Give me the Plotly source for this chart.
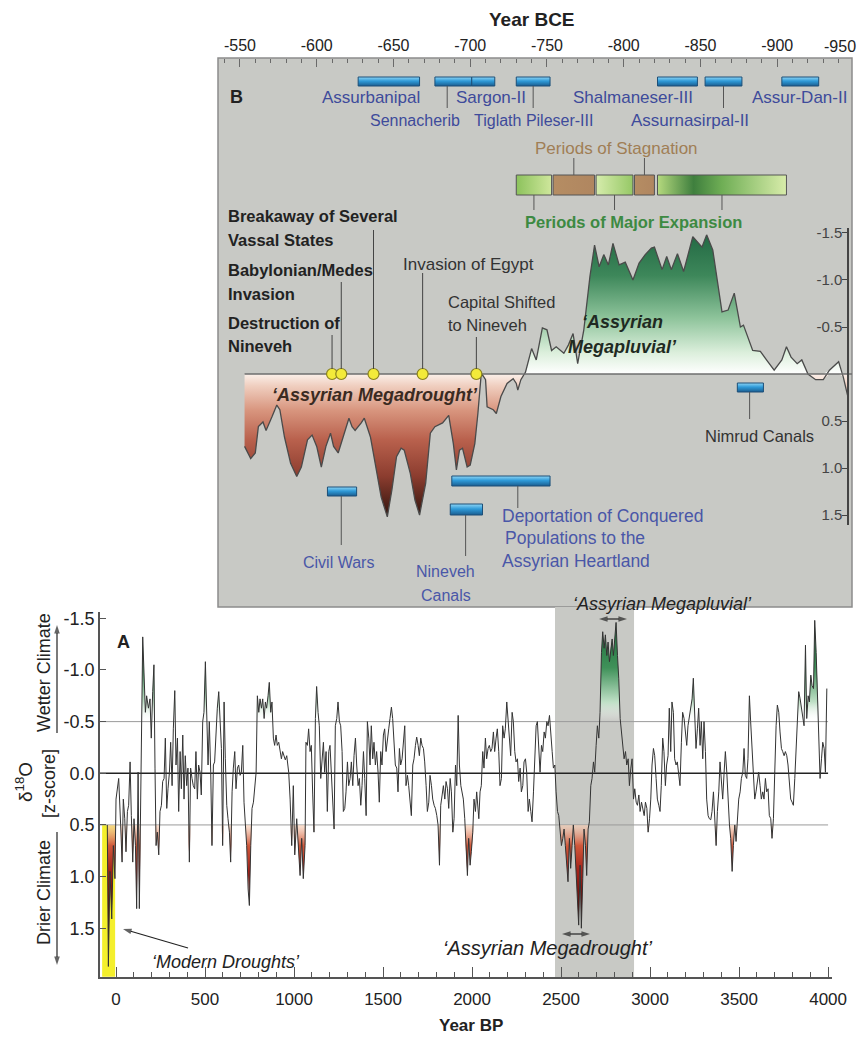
import plotly.graph_objects as go

W, H = 859, 1045
FONT = "Liberation Sans, Arial, sans-serif"


def px(x):
    return x / W


def py(y):
    return 1 - y / H


# ---------------- Panel A: d18O z-score record (Year BP) ----------------
yr_a1 = [-49, -43, -34, -24, -15, -6, 0, 7, 15, 26,
         34, 41, 49, 56, 64, 71, 79, 86, 94, 101,
         109, 116, 124, 131, 139, 146, 150, 157, 165, 172,
         182, 191, 198, 206, 213, 219, 225, 232, 240, 247,
         255, 262, 270, 277, 285, 292, 300, 307, 315, 322,
         330, 337, 345, 352, 360, 367, 375, 382, 389, 397,
         404, 412, 419, 427, 434, 442, 449, 457, 464, 472,
         479, 487, 494, 502, 509, 517, 524, 532, 539, 547,
         554, 562, 569, 577, 584, 592, 599, 607, 614, 622,
         629, 637, 644, 652, 659, 667, 674, 682, 689, 697,
         704, 712, 719, 727, 734, 742, 749, 757, 764, 772,
         779, 787, 794, 802, 809, 817, 824, 832, 839, 846,
         854, 861, 869, 876, 884, 891, 899, 906, 914, 921,
         929, 936, 944, 951, 959, 970]
z_a1 = [0.50, 1.87, 0.95, 1.41, 0.70, 1.02, 0.25, 0.12, 0.05, 0.50,
        0.86, 0.25, 0.44, 0.76, 0.37, 0.31, -0.11, 0.41, 0.86, 0.44,
        0.70, 1.31, -0.01, 1.31, -0.01, -0.59, -1.32, -0.98, -0.59, -0.75,
        -0.63, -0.72, -0.34, -0.79, -1.05, -0.05, 0.70, 0.57, 0.79, 0.37,
        0.31, 0.08, 0.05, -0.34, 0.34, 0.15, -0.01, -0.30, 0.12, -0.43,
        -0.80, -0.08, -0.34, 0.37, -0.21, 0.15, -0.37, 0.25, -0.17, 0.12,
        -0.05, 0.86, -0.05, 0.05, 0.12, 0.15, -0.21, 0.25, -0.08, -0.01,
        0.21, -0.50, -0.59, -1.08, -0.59, -0.08, -0.50, -0.01, 0.70, -0.08,
        -0.11, -0.46, -0.63, -0.79, -0.46, -0.24, 0.70, -0.69, -0.14, 0.31,
        0.44, 0.57, 0.86, 0.18, -0.05, -0.21, 0.15, -0.05, -0.08, 0.02,
        -0.01, -0.27, 0.28, 0.50, 0.70, 1.12, 1.28, 0.70, 0.34, 0.28,
        0.12, -0.01, -0.75, -0.59, -0.72, -0.63, -0.72, -0.53, -0.69, -0.63,
        -0.75, -0.88, -0.59, -0.69, -0.34, -0.27, -0.37, -0.27, -0.30, -0.21,
        -0.14, -0.21, -0.17, -0.13, -0.17, -0.01]

yr_a2 = [978, 987, 996, 1004, 1015, 1024, 1034, 1043, 1052, 1062,
         1067, 1075, 1082, 1090, 1097, 1105, 1112, 1120, 1127, 1135,
         1142, 1150, 1157, 1165, 1172, 1180, 1187, 1195, 1202, 1210,
         1217, 1225, 1232, 1240, 1247, 1255, 1262, 1270, 1277, 1285,
         1292, 1300, 1307, 1315, 1322, 1330, 1337, 1345, 1352, 1360,
         1367, 1375, 1382, 1390, 1397, 1405, 1412, 1420, 1427, 1434,
         1442, 1449, 1457, 1464, 1472, 1479, 1487, 1494, 1502, 1509,
         1517, 1524, 1532, 1539, 1547, 1554, 1562, 1569, 1577, 1584,
         1592, 1599, 1607, 1614, 1622, 1629, 1637, 1644, 1652, 1659,
         1667, 1674, 1682, 1689, 1697, 1704, 1712, 1719, 1727, 1734,
         1742, 1749, 1757, 1764, 1772, 1779, 1787, 1794, 1802, 1809,
         1817, 1824, 1832, 1839, 1847, 1854, 1862, 1869, 1877, 1884,
         1892, 1899, 1907, 1914, 1922, 1929, 1937, 1944, 1951, 1959,
         1966, 1974, 1981, 1989, 1996, 2004, 2011, 2019, 2026, 2038]
z_a2 = [0.25, 0.70, 0.12, 0.79, 0.44, 0.73, 0.99, 0.63, 1.02, 0.70,
        -0.30, -0.27, -0.43, -0.21, -0.27, 0.21, 0.57, -0.53, -0.84, -0.59,
        -0.46, 0.05, -0.17, -0.30, -0.01, -0.21, 0.37, -0.21, -0.27, 0.05,
        0.31, 0.54, -0.46, -0.53, -0.69, -0.50, -0.46, -0.21, 0.37, 0.34,
        0.18, -0.11, 0.12, 0.05, -0.11, 0.12, -0.17, -0.34, -0.08, 0.12,
        0.05, 0.31, 0.12, -0.21, 0.05, 0.41, -0.50, -0.34, -0.08, -0.46,
        -0.14, -0.30, -0.08, -0.21, -0.01, 0.28, -0.21, -0.08, -0.37, -0.43,
        -0.21, -0.34, -0.43, -0.53, -0.64, -0.53, -0.24, -0.08, -0.05, 0.18,
        -0.24, -0.08, -0.14, -0.30, -0.46, 0.12, 0.02, 0.12, 0.31, 0.41,
        -0.08, -0.14, -0.27, -0.35, -0.27, -0.17, -0.34, -0.27, -0.24, -0.11,
        0.12, 0.37, 0.28, 0.02, 0.12, 0.25, 0.31, 0.34, 0.41, 0.50,
        0.89, 0.31, 0.21, 0.12, 0.25, 0.08, 0.15, 0.34, 0.05, 0.18,
        0.57, 0.44, -0.08, 0.12, -0.56, -0.08, 0.12, 0.18, 0.25, 0.44,
        0.76, 0.99, 0.63, 0.89, 0.76, 0.57, 0.25, 0.37, 0.18, 0.44]

yr_a3 = [2045, 2052, 2060, 2067, 2075, 2082, 2090, 2097, 2105, 2112,
         2120, 2127, 2135, 2142, 2150, 2157, 2165, 2172, 2180, 2187,
         2195, 2202, 2210, 2217, 2225, 2232, 2240, 2247, 2255, 2262,
         2270, 2277, 2285, 2292, 2300, 2307, 2315, 2322, 2330, 2337,
         2345, 2352, 2360, 2367, 2375, 2382, 2390, 2397, 2405, 2412,
         2420, 2427, 2435, 2442, 2450, 2457, 2465, 2472, 2480, 2487,
         2495, 2502, 2510, 2517, 2524, 2532, 2539, 2547, 2554, 2562,
         2569, 2577, 2584, 2592, 2599, 2607, 2614, 2622, 2629, 2637,
         2644, 2652, 2659, 2667, 2674, 2682, 2689, 2697, 2704, 2712,
         2719, 2727, 2734, 2742, 2749, 2757, 2764, 2772, 2779, 2787,
         2794, 2802, 2809, 2817, 2824, 2832, 2839, 2847, 2854, 2862,
         2869, 2877, 2884, 2892, 2899, 2907, 2914, 2922, 2929, 2937,
         2944, 2952, 2959, 2967, 2974, 2982, 2989, 2997, 3004, 3011,
         3019, 3026, 3034, 3041, 3049]
z_a3 = [0.18, 0.12, -0.21, -0.05, -0.34, -0.14, -0.24, -0.27, -0.21, -0.24,
        -0.40, -0.21, -0.34, -0.43, -0.21, 0.12, 0.05, -0.46, -0.34, -0.43,
        -0.69, -0.53, -0.27, -0.17, -0.59, -0.50, -0.21, -0.11, -0.14, 0.08,
        -0.05, 0.18, 0.12, -0.11, -0.14, -0.01, 0.37, 0.25, 0.37, 0.47,
        0.18, -0.17, -0.46, -0.50, -0.21, -0.01, -0.27, -0.21, -0.40, -0.34,
        -0.50, -0.46, -0.56, -0.43, -0.21, -0.05, -0.08, 0.18, 0.37, 0.41,
        0.54, 0.70, 0.63, 0.54, 0.70, 0.89, 1.05, 0.63, 0.92, 0.70,
        0.50, 0.70, 0.95, 1.15, 1.47, 0.89, 1.50, 1.02, 0.54, 0.70,
        0.99, 0.54, 0.47, 0.12, 0.05, -0.11, -0.01, -0.27, -0.46, -0.34,
        -0.59, -1.17, -1.37, -1.21, -1.34, -1.14, -1.27, -1.08, -1.21, -1.30,
        -1.14, -1.37, -1.46, -1.14, -0.92, -0.53, -0.40, -0.27, -0.14, -0.21,
        -0.08, -0.14, 0.12, -0.05, -0.14, 0.25, 0.15, 0.28, 0.31, 0.21,
        0.37, 0.28, 0.34, 0.41, 0.28, 0.34, 0.57, 0.44, 0.25, -0.08,
        -0.24, -0.17, 0.05, 0.25, 0.31]

yr_a4 = [3056, 3063, 3071, 3078, 3086, 3093, 3101, 3108, 3116, 3123,
         3131, 3138, 3146, 3153, 3161, 3168, 3176, 3183, 3191, 3198,
         3206, 3213, 3221, 3228, 3236, 3243, 3251, 3258, 3266, 3273,
         3281, 3288, 3296, 3303, 3311, 3318, 3326, 3333, 3341, 3348,
         3356, 3363, 3371, 3378, 3386, 3393, 3401, 3408, 3416, 3423,
         3431, 3438, 3446, 3453, 3461, 3468, 3476, 3483, 3491, 3498,
         3506, 3513, 3521, 3528, 3535, 3543, 3550, 3558, 3565, 3573,
         3580, 3588, 3595, 3603, 3610, 3618, 3625, 3633, 3640, 3648,
         3655, 3663, 3670, 3678, 3685, 3693, 3700, 3708, 3715, 3723,
         3730, 3738, 3745, 3753, 3760, 3768, 3775, 3783, 3790, 3798,
         3805, 3813, 3820, 3828, 3835, 3843, 3850, 3858, 3865, 3873,
         3880, 3888, 3895, 3903, 3910, 3918, 3925, 3933, 3940, 3948,
         3955, 3963, 3970, 3978, 3985, 3993]
z_a4 = [0.37, 0.12, -0.34, -0.21, 0.12, -0.08, -0.17, -0.63, -0.21, -0.69,
        -0.59, -0.14, -0.08, -0.11, -0.01, 0.12, -0.30, -0.59, -0.53, -0.40,
        -0.27, -0.46, -0.56, -0.63, -0.72, -0.92, -0.59, -0.24, -0.43, -0.63,
        -0.27, -0.50, -0.14, -0.50, -0.21, 0.25, 0.41, 0.44, 0.45, 0.37,
        0.18, 0.50, 0.70, 0.37, 0.18, -0.11, 0.12, 0.25, -0.01, -0.21,
        -0.01, 0.25, 0.50, 0.63, 0.95, 0.70, 0.50, 0.66, 0.44, 0.25,
        0.18, 0.05, -0.01, -0.24, 0.02, 0.05, -0.14, -0.75, -0.50, -0.21,
        -0.01, 0.25, 0.18, 0.05, -0.01, 0.12, 0.25, 0.18, 0.25, 0.05,
        0.18, 0.15, 0.41, 0.44, 0.63, 0.44, -0.01, -0.46, -0.66, -0.59,
        -0.40, -0.24, -0.21, -0.17, -0.21, -0.17, -0.08, 0.12, 0.25, 0.28,
        0.31, 0.05, -0.27, -0.50, -0.79, -0.72, -0.63, -0.53, -0.46, -1.24,
        -0.53, -0.75, -0.69, -0.95, -0.85, -0.82, -1.48, -1.17, -0.79, -0.43,
        0.05, -0.14, -0.30, -0.24, -0.01, -0.82]

year_bp = yr_a1 + yr_a2 + yr_a3 + yr_a4
z_score = z_a1 + z_a2 + z_a3 + z_a4

# ---------------- Panel B: Neo-Assyrian window (Year BCE) ----------------
year_bce = [-553, -557, -560, -562, -565, -567, -571, -574, -576, -579,
            -583, -587, -590, -594, -597, -600, -603, -606, -609, -611,
            -614, -617, -621, -623, -625, -629, -631, -635, -639, -642,
            -646, -649, -652, -655, -657, -661, -664, -667, -671, -674,
            -677, -682, -686, -689, -691, -693, -695, -698, -700, -703,
            -705, -707, -708, -710, -711, -715, -717, -720, -724, -728,
            -730, -731, -733, -736, -740, -743, -747, -750, -753, -756,
            -761, -764, -767, -770, -774, -778, -781, -784, -787, -790,
            -793, -797, -801, -806, -810, -814, -818, -820, -825, -828,
            -831, -835, -839, -845, -851, -854, -858, -864, -868, -872,
            -876, -878, -884, -889, -893, -898, -903, -906, -909, -913,
            -916, -920, -925, -930, -934, -940, -943, -946]
z_bce = [0.77, 0.90, 0.84, 0.56, 0.51, 0.60, 0.45, 0.33, 0.38, 0.67,
         0.95, 1.09, 0.99, 0.70, 0.65, 0.77, 0.99, 0.77, 0.63, 0.77,
         0.84, 0.67, 0.47, 0.56, 0.60, 0.52, 0.47, 0.67, 1.06, 1.31,
         1.52, 1.23, 0.88, 0.79, 0.81, 1.06, 1.34, 1.50, 1.16, 0.63,
         0.56, 0.52, 0.44, 0.74, 1.02, 0.81, 0.79, 0.99, 0.97, 0.74,
         0.42, 0.03, 0.01, 0.06, 0.35, 0.38, 0.42, 0.24, 0.10, 0.05,
         0.10, 0.17, 0.06, -0.02, -0.27, -0.15, -0.49, -0.47, -0.25, -0.29,
         -0.22, -0.31, -0.43, -0.11, -0.47, -1.04, -1.37, -1.14, -1.27, -1.16,
         -1.39, -1.16, -1.19, -1.00, -1.18, -1.27, -1.34, -1.35, -1.11, -1.25,
         -1.11, -1.28, -1.09, -1.46, -1.35, -1.48, -1.32, -0.66, -0.68, -0.86,
         -0.50, -0.52, -0.25, -0.24, -0.15, -0.04, -0.15, -0.29, -0.18, -0.11,
         -0.15, 0.00, 0.06, 0.06, -0.04, -0.13, 0.03, 0.24]

# kings (reign bars, Year BCE)
kings = ["Assurbanipal", "Sennacherib", "Sargon-II", "Tiglath Pileser-III",
         "Shalmaneser-III", "Assurnasirpal-II", "Assur-Dan-II"]
king_start = [-627, -677, -701, -730, -822, -853, -903]
king_end = [-667, -701, -716, -752, -848, -877, -927]
king_link = [-685, -741, -865]   # connector years for Sennacherib, Tiglath, Assurnasirpal

# periods of major expansion / stagnation
expansion_start = [-730, -782, -822]
expansion_end = [-753, -806, -906]
stagnation_start = [-754, -807]
stagnation_end = [-781, -820]

# historical events marked with yellow dots
event_names = ["Destruction of Nineveh", "Babylonian/Medes Invasion",
               "Breakaway of Several Vassal States", "Invasion of Egypt",
               "Capital Shifted to Nineveh"]
event_years = [-610, -616, -637, -669, -704]

# event bars below the curve
bar_names = ["Civil Wars", "Deportation", "Nineveh Canals", "Nimrud Canals"]
bar_start = [-607, -688, -687, -874]
bar_end = [-626, -752, -708, -891]
bar_link = [-616, -731, -697, -882]

# shaded windows in panel A
assyrian_window = [2466, 2910]
modern_window = [-78, -5]

xa_ticks = [0, 500, 1000, 1500, 2000, 2500, 3000, 3500, 4000]
ya_ticks = [-1.5, -1.0, -0.5, 0.0, 0.5, 1.0, 1.5]
ya_text = ["-1.5", "-1.0", "-0.5", "0.0", "0.5", "1.0", "1.5"]
xb_ticks = [-550, -600, -650, -700, -750, -800, -850, -900]
yb_ticks = [-1.5, -1.0, -0.5, 0.5, 1.0, 1.5]
yb_text = ["-1.5", "-1.0", "-0.5", "0.5", "1.0", "1.5"]

# ---------------------------------------------------------------------------
fig = go.Figure()

# ---- panel A fills ----
dry_a = [max(v, 0.5) for v in z_score]
wet_a = [min(v, -0.5) for v in z_score]
fig.add_trace(go.Scatter(x=year_bp, y=[0.5] * len(year_bp), mode="lines",
                         line=dict(width=0), hoverinfo="skip", xaxis="x", yaxis="y"))
fig.add_trace(go.Scatter(x=year_bp, y=dry_a, mode="lines", line=dict(width=0),
                         fill="tonexty",
                         fillgradient=dict(type="vertical", start=0.5, stop=1.3,
                                           colorscale=[[0, "rgba(248,210,185,0.6)"],
                                                       [0.25, "#d0583a"],
                                                       [0.55, "#a5231a"],
                                                       [1, "#5a0c08"]]),
                         hoverinfo="skip", xaxis="x", yaxis="y"))
fig.add_trace(go.Scatter(x=year_bp, y=[-0.5] * len(year_bp), mode="lines",
                         line=dict(width=0), hoverinfo="skip", xaxis="x", yaxis="y"))
fig.add_trace(go.Scatter(x=year_bp, y=wet_a, mode="lines", line=dict(width=0),
                         fill="tonexty",
                         fillgradient=dict(type="vertical", start=-1.45, stop=-0.5,
                                           colorscale=[[0, "#1d6a3a"],
                                                       [0.45, "#3f9159"],
                                                       [0.8, "#bfe0c6"],
                                                       [1, "rgba(255,255,255,0)"]]),
                         hoverinfo="skip", xaxis="x", yaxis="y"))
fig.add_trace(go.Scatter(x=year_bp, y=z_score, mode="lines",
                         line=dict(color="#333333", width=1),
                         xaxis="x", yaxis="y"))

# ---- panel B fills + curve ----
dry_b = [max(v, 0) for v in z_bce]
wet_b = [min(v, 0) for v in z_bce]
fig.add_trace(go.Scatter(x=year_bce, y=dry_b, mode="lines", line=dict(width=0),
                         fill="tozeroy",
                         fillgradient=dict(type="vertical", start=0, stop=1.55,
                                           colorscale=[[0, "#fbf0ea"],
                                                       [0.08, "#f0cfc0"],
                                                       [0.25, "#d8957e"],
                                                       [0.45, "#b9614d"],
                                                       [0.7, "#8c3d2f"],
                                                       [1, "#2a110b"]]),
                         hoverinfo="skip", xaxis="x2", yaxis="y2"))
fig.add_trace(go.Scatter(x=year_bce, y=wet_b, mode="lines", line=dict(width=0),
                         fill="tozeroy",
                         fillgradient=dict(type="vertical", start=-1.5, stop=0,
                                           colorscale=[[0, "#226843"],
                                                       [0.3, "#3d875a"],
                                                       [0.6, "#8dc39a"],
                                                       [0.85, "#dcefdc"],
                                                       [1, "#ffffff"]]),
                         hoverinfo="skip", xaxis="x2", yaxis="y2"))
fig.add_trace(go.Scatter(x=year_bce, y=z_bce, mode="lines",
                         line=dict(color="#4a4a4a", width=1.3),
                         xaxis="x2", yaxis="y2"))
fig.add_trace(go.Scatter(x=[year_bce[0], -949], y=[0, 0], mode="lines",
                         line=dict(color="#6e6e6e", width=1.5),
                         hoverinfo="skip", xaxis="x2", yaxis="y2"))
fig.add_trace(go.Scatter(x=event_years, y=[0] * len(event_years), mode="markers",
                         marker=dict(size=11, color="#f3ea3a",
                                     line=dict(color="#8a8220", width=1.2)),
                         cliponaxis=False, text=event_names,
                         xaxis="x2", yaxis="y2"))


# ---- decorative bars on an overlay (x3: Year BCE, y3: page pixels) ----
def bar_trace(a, b, top, bot, scale, orient="vertical", edge="#1c4f78"):
    if orient == "vertical":
        grad = dict(type="vertical", start=top, stop=bot, colorscale=scale)
    else:
        grad = dict(type="horizontal", start=a, stop=b, colorscale=scale)
    return go.Scatter(x=[a, b, b, a, a], y=[top, top, bot, bot, top], mode="lines",
                      fill="toself", fillgradient=grad,
                      line=dict(color=edge, width=1), hoverinfo="skip",
                      xaxis="x3", yaxis="y3")


BLUE = [[0, "#8fd6f6"], [0.45, "#2f9ad8"], [1, "#1a5d90"]]
for s, e in zip(king_start, king_end):
    fig.add_trace(bar_trace(s, e, 77, 86, BLUE))
bar_rows = [(487, 496), (476, 486), (504, 515), (383, 392)]
for (s, e), (t, b) in zip(zip(bar_start, bar_end), bar_rows):
    fig.add_trace(bar_trace(s, e, t, b, BLUE))

exp_scales = [
    [[0, "#8cc25c"], [1, "#cfe79c"]],
    [[0, "#d6ecac"], [1, "#96c866"]],
    [[0, "#b5d97e"], [0.28, "#3f7f3e"], [0.5, "#6fae55"], [1, "#d8ecaa"]],
]
for (s, e), sc in zip(zip(expansion_start, expansion_end), exp_scales):
    fig.add_trace(bar_trace(s, e, 175, 195, sc, orient="horizontal", edge="#555555"))
for s, e in zip(stagnation_start, stagnation_end):
    fig.add_trace(bar_trace(s, e, 175, 195, [[0, "#b58d63"], [1, "#b08660"]],
                            orient="horizontal", edge="#555555"))


# ---- pointer arrows on a full-page overlay (x4/y4 in page pixels) ----
def arrow_trace(x_tail, y_tail, x_head, y_head):
    return go.Scatter(x=[x_tail, x_head], y=[y_tail, y_head], mode="lines+markers",
                      line=dict(color="#222222", width=1.2),
                      marker=dict(symbol=["circle", "arrow"], size=[0, 9],
                                  color="#222222", angleref="previous",
                                  line=dict(width=0)),
                      hoverinfo="skip", cliponaxis=False, xaxis="x4", yaxis="y4")


for tail, head in [((57, 733), (57, 625)), ((57, 832), (57, 965)),
                   ((188, 948), (123, 929)),
                   ((613, 619), (599, 619)), ((613, 619), (627, 619)),
                   ((576, 934), (562, 934)), ((576, 934), (590, 934))]:
    fig.add_trace(arrow_trace(tail[0], tail[1], head[0], head[1]))

# ---------------------------------------------------------------------------
shapes = []
shapes.append(dict(type="rect", xref="paper", yref="paper", x0=px(218), x1=px(852),
                   y0=py(607), y1=py(58), fillcolor="#c8c9c5",
                   line=dict(color="#8c8c8c", width=1.5), layer="below"))
shapes.append(dict(type="rect", xref="x", yref="paper", x0=assyrian_window[0],
                   x1=assyrian_window[1], y0=py(977), y1=py(607), fillcolor="#c8c9c5",
                   line=dict(width=0), layer="below"))
shapes.append(dict(type="rect", xref="x", yref="y", x0=modern_window[0],
                   x1=modern_window[1], y0=0.5, y1=1.97, fillcolor="#f4ef2c",
                   line=dict(width=0), layer="below"))
for yv, col, wd in [(-0.5, "#9a9a9a", 1), (0.5, "#9a9a9a", 1), (0.0, "#222222", 1.3)]:
    shapes.append(dict(type="line", xref="x", yref="y", x0=-90, x1=4000, y0=yv, y1=yv,
                       line=dict(color=col, width=wd), layer="below"))


def link(year, y0, y1, col="#555555"):
    return dict(type="line", xref="x2", yref="paper", x0=year, x1=year,
                y0=py(y0), y1=py(y1), line=dict(color=col, width=1))


for yr in king_link:
    shapes.append(link(yr, 86, 108))
for s, e in zip(stagnation_start, stagnation_end):
    shapes.append(link((s + e) / 2, 158, 175))
for s, e in zip(expansion_start, expansion_end):
    shapes.append(link((s + e) / 2, 195, 210))
for yr, top in zip(event_years, [335, 282, 230, 273, 337]):
    shapes.append(link(yr, top, 369, "#444444"))
for yr, (t, b) in zip(bar_link, [(496, 545), (486, 508), (515, 556), (392, 419)]):
    shapes.append(link(yr, t, b))


# ---------------------------------------------------------------------------
def ann(text, x, y, size=15, color="#222222", bold=False, italic=False,
        xanchor="center", angle=0):
    t = text
    if bold:
        t = "<b>" + t + "</b>"
    if italic:
        t = "<i>" + t + "</i>"
    return dict(text=t, x=px(x), y=py(y), xref="paper", yref="paper", showarrow=False,
                font=dict(size=size, color=color, family=FONT), xanchor=xanchor,
                yanchor="middle", textangle=angle)


KB = "#3e4b9b"
EB = "#4a57a8"
anns = [
    ann("Year BCE", 532, 20, 19, bold=True),
    ann("-950", 858, 47, 16, xanchor="right"),
    ann("B", 237, 97, 18, bold=True),
    ann(kings[0], 371, 98, 17, KB),
    ann(kings[1], 415, 120, 16, KB),
    ann(kings[2], 491, 98, 17, KB),
    ann(kings[3], 533, 120, 16, KB),
    ann(kings[4], 633, 98, 17, KB),
    ann(kings[5], 690, 120, 17, KB),
    ann(kings[6], 799, 98, 17, KB),
    ann("Periods of Stagnation", 616, 148, 17, "#a07e55"),
    ann("Periods of Major Expansion", 633, 222, 16.5, "#3d8a42", bold=True),
    ann("Breakaway of Several", 226, 216, 16.5, bold=True, xanchor="left"),
    ann("Vassal States", 226, 240, 16.5, bold=True, xanchor="left"),
    ann("Babylonian/Medes", 226, 270, 16.5, bold=True, xanchor="left"),
    ann("Invasion", 226, 294, 16.5, bold=True, xanchor="left"),
    ann("Destruction of", 226, 323, 16.5, bold=True, xanchor="left"),
    ann("Nineveh", 226, 346, 16.5, bold=True, xanchor="left"),
    ann("Invasion of Egypt", 401, 264, 17, "#333333", xanchor="left"),
    ann("Capital Shifted", 446, 302, 16.5, "#333333", xanchor="left"),
    ann("to Nineveh", 446, 325, 16.5, "#333333", xanchor="left"),
    ann("‘Assyrian Megadrought’", 375, 395, 18, "#3a2a22", bold=True, italic=True),
    ann("‘Assyrian", 622, 322, 18, "#1f2a22", bold=True, italic=True),
    ann("Megapluvial’", 622, 347, 18, "#1f2a22", bold=True, italic=True),
    ann("Nimrud Canals", 759, 436, 16.5, "#333333"),
    ann("Civil Wars", 338, 562, 16, EB),
    ann("Nineveh", 446, 571, 16, EB),
    ann("Canals", 446, 595, 16, EB),
    ann("Deportation of Conquered", 500, 516, 17.5, EB, xanchor="left"),
    ann("Populations to the", 503, 538, 17.5, EB, xanchor="left"),
    ann("Assyrian Heartland", 500, 561, 17.5, EB, xanchor="left"),
    ann("‘Assyrian Megapluvial’", 662, 604, 18, italic=True),
    ann("A", 123, 642, 18, bold=True),
    ann("‘Assyrian Megadrought’", 548, 948, 20, italic=True),
    ann("‘Modern Droughts’", 226, 962, 18, italic=True),
    ann("Year BP", 471, 1025, 17, bold=True),
    ann("δ<sup>18</sup>O", 24, 782, 19, angle=-90),
    ann("[z-score]", 49, 784, 18, angle=-90),
    ann("Wetter Climate", 44, 673, 18, angle=-90),
    ann("Drier Climate", 44, 893, 18, angle=-90),
]

fig.update_layout(
    width=W, height=H, autosize=False,
    margin=dict(l=0, r=0, t=0, b=0, pad=0),
    paper_bgcolor="white", plot_bgcolor="rgba(0,0,0,0)",
    showlegend=False,
    font=dict(family=FONT, size=15, color="#222222"),
    shapes=shapes, annotations=anns,
    xaxis=dict(domain=[px(100), px(832)], range=[-90, 4022], anchor="y",
               automargin=False,
               tickvals=xa_ticks, ticks="inside", ticklen=10, tickcolor="#555555",
               minor=dict(dtick=100, ticks="inside", ticklen=5, tickcolor="#555555"),
               showline=True, linecolor="#555555", linewidth=1.5, ticklabelstandoff=6,
               showgrid=False, zeroline=False, tickfont=dict(size=17)),
    yaxis=dict(domain=[py(977), py(612)], range=[1.972, -1.561], anchor="x",
               automargin=False,
               tickvals=ya_ticks, ticktext=ya_text, ticks="inside", ticklen=6,
               tickcolor="#555555", showline=True, linecolor="#555555", linewidth=1.5,
               showgrid=False, zeroline=False, tickfont=dict(size=18)),
    xaxis2=dict(domain=[px(218), px(852)], range=[-535.7, -948.7], anchor="free",
                automargin=False,
                position=py(58), side="top", tickvals=xb_ticks,
                ticktext=[str(v) for v in xb_ticks], ticks="inside", ticklen=8,
                tickcolor="#6a6a6a", ticklabelstandoff=4,
                minor=dict(dtick=10, ticks="inside", ticklen=4, tickcolor="#6a6a6a"),
                showline=False, showgrid=False, zeroline=False, tickfont=dict(size=16)),
    yaxis2=dict(domain=[py(525), py(228)], range=[1.606, -1.553], anchor="free",
                automargin=False,
                position=px(848), side="right", tickvals=yb_ticks, ticktext=yb_text,
                ticks="inside", ticklabelposition="inside", ticklabeloverflow="allow",
                ticklen=5, tickcolor="#444444", showline=True, linecolor="#444444",
                linewidth=1.5, showgrid=False, zeroline=False, tickfont=dict(size=15)),
    xaxis3=dict(domain=[px(218), px(852)], range=[-535.7, -948.7], anchor="y3",
                visible=False, automargin=False),
    yaxis3=dict(domain=[0, 1], range=[H, 0], anchor="x3", visible=False,
                automargin=False),
    xaxis4=dict(domain=[0, 1], range=[0, W], anchor="y4", visible=False,
                automargin=False),
    yaxis4=dict(domain=[0, 1], range=[H, 0], anchor="x4", visible=False,
                automargin=False),
)

# remove the default page margin so the 859x1045 figure fills the window exactly
fig.write_html("out.html", config={"displayModeBar": False},
               post_script="document.body.style.margin='0';"
                           "document.body.style.overflow='hidden';")
